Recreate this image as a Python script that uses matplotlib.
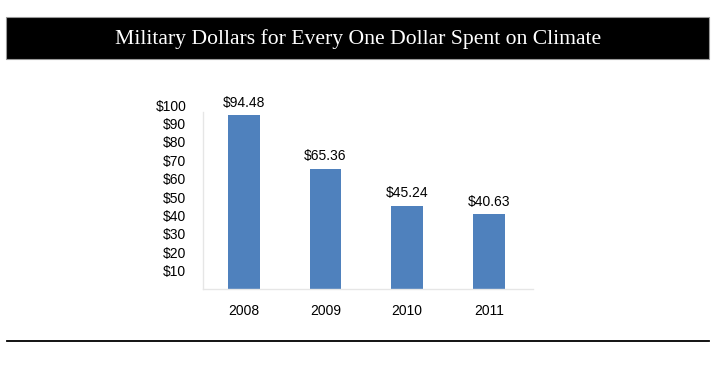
import matplotlib
matplotlib.use("Agg")
import matplotlib.pyplot as plt
from matplotlib.patches import Rectangle
from matplotlib.lines import Line2D

# Data
years = ['2008', '2009', '2010', '2011']
dollars = [94.48, 65.36, 45.24, 40.63]
ytick_vals = [10, 20, 30, 40, 50, 60, 70, 80, 90, 100]

W, H = 720, 371
fig = plt.figure(figsize=(W / 100, H / 100), dpi=100)

# Black title banner
fig.patches.append(Rectangle((6 / W, (H - 59) / H), 703 / W, 42 / H,
                             transform=fig.transFigure, facecolor='black',
                             edgecolor='#999999', linewidth=0.8))
fig.text(0.497, (H - 39) / H, "Military Dollars for Every One Dollar Spent on Climate",
         color='white', ha='center', va='center', fontsize=15.6,
         family='Liberation Serif')

# Bottom rule
fig.lines.append(Line2D([7 / W, 709 / W], [(H - 341) / H] * 2,
                        transform=fig.transFigure, color='black', linewidth=1.3))

ax = fig.add_axes([203 / W, (H - 289) / H, 330 / W, 184 / H])
x = range(len(years))
ax.bar(x, dollars, width=0.39, color='#4f81bd')

for xi, v in zip(x, dollars):
    ax.annotate(f"${v:.2f}", (xi, v), xytext=(0, 4), textcoords='offset points',
                ha='center', va='bottom', fontsize=10, family='Liberation Sans')

ax.set_xlim(-0.5, 3.54)
ax.set_ylim(0, 100)
ax.set_xticks(list(x))
ax.set_xticklabels(years, fontsize=10, family='Liberation Sans')
ax.set_yticks(ytick_vals)
ax.set_yticklabels([f"${v}" for v in ytick_vals], fontsize=10, family='Liberation Sans')
ax.tick_params(length=0)
ax.tick_params(axis='x', pad=10.5)
ax.tick_params(axis='y', pad=12)

for s in ['top', 'right']:
    ax.spines[s].set_visible(False)
for s in ['left', 'bottom']:
    ax.spines[s].set_color('#e6e6e6')
    ax.spines[s].set_linewidth(1)
ax.spines['left'].set_bounds(0, 96)

fig.savefig("out.png", dpi=100)
